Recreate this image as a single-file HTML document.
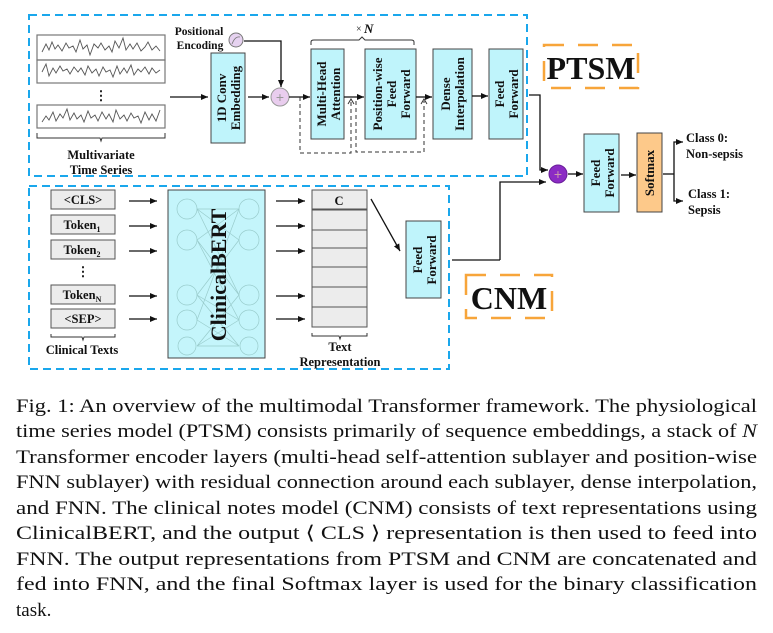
<!DOCTYPE html>
<html><head><meta charset="utf-8"><style>
html,body{margin:0;padding:0;background:#fff;}
svg{display:block;}
.b{font-family:"Liberation Serif",serif;font-weight:bold;fill:#111;}
.cap{font-family:"Liberation Serif",serif;fill:#111;font-size:19px;}
</style></head><body>
<svg width="773" height="633" viewBox="0 0 773 633" xmlns="http://www.w3.org/2000/svg">
<defs>
<marker id="a" markerWidth="8" markerHeight="8" refX="7" refY="4" orient="auto" markerUnits="userSpaceOnUse"><path d="M0,1 L7,4 L0,7 z" fill="#111"/></marker>
</defs>
<rect x="29" y="15" width="498" height="161" fill="none" stroke="#1aa7ec" stroke-width="2" stroke-dasharray="8,5"/>
<rect x="29" y="186" width="420" height="183" fill="none" stroke="#1aa7ec" stroke-width="2" stroke-dasharray="8,5"/>

<g fill="none" stroke="#777" stroke-width="1.2">
<rect x="37" y="35" width="128" height="25"/>
<rect x="37" y="60" width="128" height="23"/>
<rect x="37" y="105" width="128" height="23"/>
</g>
<g fill="none" stroke="#555" stroke-width="0.9">
<polyline points="42,52 46,44 49,50 52,42 55,49 58,45 62,51 66,43 69,48 73,46 76,52 80,40 83,49 87,45 90,55 94,44 98,48 101,43 105,50 109,46 112,52 115,41 119,48 123,38 126,50 130,44 133,49 137,43 141,51 145,47 148,42 152,50 156,46 160,51"/>
<polyline points="42,72 46,64 49,76 53,68 56,73 60,66 63,71 67,69 70,74 74,67 78,72 81,68 85,75 88,66 92,73 96,69 99,76 103,67 106,72 110,70 113,77 117,66 120,74 124,68 127,73 131,65 134,75 138,69 141,72 145,67 149,74 152,68 156,73 160,70"/>
<polyline points="42,122 46,116 49,120 53,112 56,121 60,114 63,118 67,109 70,120 74,113 77,119 81,115 84,122 88,111 91,118 95,115 98,121 102,112 106,119 109,114 113,122 116,110 120,119 124,115 127,121 131,113 134,118 138,116 141,123 145,112 149,120 152,114 156,121 160,110"/>
</g>
<text x="101" y="100" class="b" font-size="13" text-anchor="middle">⋮</text>
<path d="M37,133 v5 h63 l1,3 l1,-3 h63 v-5" fill="none" stroke="#333" stroke-width="1"/>
<text x="101" y="159" class="b" font-size="12.5" text-anchor="middle">Multivariate</text>
<text x="101" y="174" class="b" font-size="12.5" text-anchor="middle">Time Series</text>

<line x1="170" y1="97" x2="208" y2="97" stroke="#111" stroke-width="1.3" marker-end="url(#a)"/>
<rect x="211" y="53" width="34" height="90" fill="#bff4fb" stroke="#444" stroke-width="1"/>
<text transform="translate(228,98) rotate(-90)" class="b" font-size="13" text-anchor="middle"><tspan x="0" dy="-2">1D Conv</tspan><tspan x="0" dy="14">Embedding</tspan></text>
<text x="199" y="35" class="b" font-size="11.5" text-anchor="middle">Positional</text>
<text x="200" y="49" class="b" font-size="11.5" text-anchor="middle">Encoding</text>
<circle cx="236" cy="40" r="7" fill="#e6d2f0" stroke="#777"/>
<path d="M232,44 q3,-8 8,-7" fill="none" stroke="#777" stroke-width="0.8"/>
<polyline points="244,41 281,41 281,87" fill="none" stroke="#111" stroke-width="1.3" marker-end="url(#a)"/>
<line x1="248" y1="97" x2="269" y2="97" stroke="#111" stroke-width="1.3" marker-end="url(#a)"/>
<circle cx="280" cy="97" r="9" fill="#e9cdee" stroke="#999"/>
<text x="280" y="102" font-size="14" fill="#999" text-anchor="middle" font-family="Liberation Sans">+</text>
<line x1="289" y1="97" x2="310" y2="97" stroke="#111" stroke-width="1.3" marker-end="url(#a)"/>
<path d="M311,45 v-3 q0,-2 3,-2 h45 l3,-3 l3,3 h46 q3,0 3,2 v3" fill="none" stroke="#333" stroke-width="1"/>
<text x="356" y="32" font-family="Liberation Serif" font-size="10" fill="#111">×</text>
<text x="364" y="33" class="b" font-size="13" font-style="italic">N</text>
<rect x="311" y="49" width="33" height="90" fill="#bff4fb" stroke="#444"/>
<text transform="translate(328,94) rotate(-90)" class="b" font-size="13" text-anchor="middle"><tspan x="0" dy="-2">Multi-Head</tspan><tspan x="0" dy="14">Attention</tspan></text>
<line x1="344" y1="97" x2="364" y2="97" stroke="#111" stroke-width="1.3" marker-end="url(#a)"/>
<rect x="365" y="49" width="51" height="90" fill="#bff4fb" stroke="#444"/>
<text transform="translate(391,94) rotate(-90)" class="b" font-size="13" text-anchor="middle"><tspan x="0" dy="-9">Position-wise</tspan><tspan x="0" dy="14">Feed</tspan><tspan x="0" dy="14">Forward</tspan></text>
<line x1="416" y1="97" x2="432" y2="97" stroke="#111" stroke-width="1.3" marker-end="url(#a)"/>
<g fill="none" stroke="#333" stroke-width="1" stroke-dasharray="4,3">
<polyline points="300,97 300,153 351,153 351,101"/>
<polyline points="356,101 356,152 424,152 424,101"/>
</g>
<path d="M348,104 L351,99 L354,104" fill="none" stroke="#333"/>
<path d="M421,104 L424,99 L427,104" fill="none" stroke="#333"/>
<rect x="433" y="49" width="39" height="90" fill="#bff4fb" stroke="#444"/>
<text transform="translate(452,94) rotate(-90)" class="b" font-size="13" text-anchor="middle"><tspan x="0" dy="-2">Dense</tspan><tspan x="0" dy="14">Interpolation</tspan></text>
<line x1="472" y1="96" x2="488" y2="96" stroke="#111" stroke-width="1.3" marker-end="url(#a)"/>
<rect x="489" y="49" width="34" height="90" fill="#bff4fb" stroke="#444"/>
<text transform="translate(506,94) rotate(-90)" class="b" font-size="13" text-anchor="middle"><tspan x="0" dy="-2">Feed</tspan><tspan x="0" dy="14">Forward</tspan></text>

<rect x="544" y="45" width="94" height="43" fill="none" stroke="#f7a53a" stroke-width="2.5" stroke-dasharray="20,14"/>
<text x="591" y="79" class="b" font-size="32" fill="#222" text-anchor="middle">PTSM</text>

<polyline points="529,95 540,95 540,170 548,170" fill="none" stroke="#111" stroke-width="1.3" marker-end="url(#a)"/>
<polyline points="500,260 500,182 546,182" fill="none" stroke="#111" stroke-width="1.3" marker-end="url(#a)"/>
<line x1="452" y1="260" x2="500" y2="260" stroke="#111" stroke-width="1.3"/>
<circle cx="558" cy="174" r="9" fill="#8b2bc4" stroke="#6a1f9a"/>
<text x="558" y="179" font-size="14" fill="#c9a" text-anchor="middle" font-family="Liberation Sans">+</text>
<line x1="568" y1="174" x2="583" y2="174" stroke="#111" stroke-width="1.3" marker-end="url(#a)"/>
<rect x="584" y="134" width="35" height="78" fill="#bff4fb" stroke="#444"/>
<text transform="translate(602,173) rotate(-90)" class="b" font-size="13" text-anchor="middle"><tspan x="0" dy="-2">Feed</tspan><tspan x="0" dy="14">Forward</tspan></text>
<line x1="621" y1="175" x2="636" y2="175" stroke="#111" stroke-width="1.3" marker-end="url(#a)"/>
<rect x="637" y="133" width="25" height="79" fill="#fdc98a" stroke="#444"/>
<text transform="translate(654,173) rotate(-90)" class="b" font-size="13" text-anchor="middle">Softmax</text>
<polyline points="663,174 674,174" fill="none" stroke="#111" stroke-width="1.3"/>
<polyline points="674,174 674,142 683,142" fill="none" stroke="#111" stroke-width="1.3" marker-end="url(#a)"/>
<polyline points="674,174 674,201 683,201" fill="none" stroke="#111" stroke-width="1.3" marker-end="url(#a)"/>
<text x="686" y="142" class="b" font-size="12.5">Class 0:</text>
<text x="686" y="158" class="b" font-size="12.5">Non-sepsis</text>
<text x="688" y="198" class="b" font-size="12.5">Class 1:</text>
<text x="688" y="214" class="b" font-size="12.5">Sepsis</text>

<g fill="#ececec" stroke="#555" stroke-width="1">
<rect x="51" y="190" width="64" height="19"/>
<rect x="51" y="215" width="64" height="19"/>
<rect x="51" y="240" width="64" height="19"/>
<rect x="51" y="285" width="64" height="19"/>
<rect x="51" y="309" width="64" height="19"/>
</g>
<g class="b" font-size="12.5" text-anchor="middle">
<text x="83" y="204">&lt;CLS&gt;</text>
<text x="82" y="229">Token<tspan font-size="8" dy="3">1</tspan></text>
<text x="82" y="254">Token<tspan font-size="8" dy="3">2</tspan></text>
<text x="83" y="276" font-size="13">⋮</text>
<text x="82" y="299">Token<tspan font-size="8" dy="3">N</tspan></text>
<text x="83" y="323">&lt;SEP&gt;</text>
<text x="82" y="354">Clinical Texts</text>
</g>
<path d="M51,334 v3 h31 l1,3 l1,-3 h31 v-3" fill="none" stroke="#333"/>
<g stroke="#111" stroke-width="1.3" marker-end="url(#a)">
<line x1="129" y1="201" x2="157" y2="201"/>
<line x1="129" y1="226" x2="157" y2="226"/>
<line x1="129" y1="251" x2="157" y2="251"/>
<line x1="129" y1="296" x2="157" y2="296"/>
<line x1="129" y1="319" x2="157" y2="319"/>
<line x1="276" y1="201" x2="305" y2="201"/>
<line x1="276" y1="226" x2="305" y2="226"/>
<line x1="276" y1="251" x2="305" y2="251"/>
<line x1="276" y1="296" x2="305" y2="296"/>
<line x1="276" y1="319" x2="305" y2="319"/>
<line x1="371" y1="199" x2="400" y2="251"/>
</g>
<rect x="168" y="190" width="97" height="168" fill="#c4f5fb" stroke="#444"/>
<g fill="none" stroke="#9cc" stroke-width="0.7">
<circle cx="187" cy="209" r="10"/><circle cx="187" cy="240" r="10"/><circle cx="187" cy="295" r="10"/><circle cx="187" cy="320" r="10"/><circle cx="187" cy="346" r="9"/>
<circle cx="249" cy="209" r="10"/><circle cx="249" cy="240" r="10"/><circle cx="249" cy="295" r="10"/><circle cx="249" cy="320" r="10"/><circle cx="249" cy="346" r="9"/>
<path d="M197,209 L239,240 M197,240 L239,209 M197,209 L239,295 M197,240 L239,320 M197,295 L239,240 M197,320 L239,209 M197,295 L239,346 M197,346 L239,295 M197,320 L239,346 M197,346 L239,320 M197,209 L239,209 M197,346 L239,346 M197,240 L239,295 M197,295 L239,320"/>
</g>
<text transform="translate(226,275) rotate(-90)" class="b" font-size="22" text-anchor="middle">ClinicalBERT</text>
<g fill="#ececec" stroke="#555" stroke-width="1">
<rect x="312" y="190" width="55" height="19"/>
<rect x="312" y="210" width="55" height="20"/>
<rect x="312" y="230" width="55" height="18"/>
<rect x="312" y="248" width="55" height="19"/>
<rect x="312" y="267" width="55" height="20"/>
<rect x="312" y="287" width="55" height="20"/>
<rect x="312" y="307" width="55" height="20"/>
</g>
<text x="339" y="205" class="b" font-size="12.5" text-anchor="middle">C</text>
<path d="M312,333 v3 h27 l1,3 l1,-3 h26 v-3" fill="none" stroke="#333"/>
<text x="340" y="351" class="b" font-size="12.5" text-anchor="middle">Text</text>
<text x="340" y="366" class="b" font-size="12.5" text-anchor="middle">Representation</text>
<rect x="406" y="221" width="35" height="77" fill="#bff4fb" stroke="#444"/>
<text transform="translate(424,260) rotate(-90)" class="b" font-size="13" text-anchor="middle"><tspan x="0" dy="-2">Feed</tspan><tspan x="0" dy="14">Forward</tspan></text>
<rect x="466" y="275" width="86" height="43" fill="none" stroke="#f7a53a" stroke-width="2.5" stroke-dasharray="20,14"/>
<text x="509" y="309" class="b" font-size="32" fill="#222" text-anchor="middle">CNM</text>

<g class="cap">
<text x="16" y="412" textLength="741" lengthAdjust="spacingAndGlyphs">Fig. 1: An overview of the multimodal Transformer framework. The physiological</text>
<text x="16" y="437" textLength="741" lengthAdjust="spacingAndGlyphs">time series model (PTSM) consists primarily of sequence embeddings, a stack of <tspan font-style="italic">N</tspan></text>
<text x="16" y="463" textLength="741" lengthAdjust="spacingAndGlyphs">Transformer encoder layers (multi-head self-attention sublayer and position-wise</text>
<text x="16" y="488" textLength="741" lengthAdjust="spacingAndGlyphs">FNN sublayer) with residual connection around each sublayer, dense interpolation,</text>
<text x="16" y="514" textLength="741" lengthAdjust="spacingAndGlyphs">and FNN. The clinical notes model (CNM) consists of text representations using</text>
<text x="16" y="539" textLength="741" lengthAdjust="spacingAndGlyphs">ClinicalBERT, and the output ⟨ CLS ⟩ representation is then used to feed into</text>
<text x="16" y="565" textLength="741" lengthAdjust="spacingAndGlyphs">FNN. The output representations from PTSM and CNM are concatenated and</text>
<text x="16" y="590" textLength="741" lengthAdjust="spacingAndGlyphs">fed into FNN, and the final Softmax layer is used for the binary classification</text>
<text x="16" y="616">task.</text>
</g>
</svg>
</body></html>
